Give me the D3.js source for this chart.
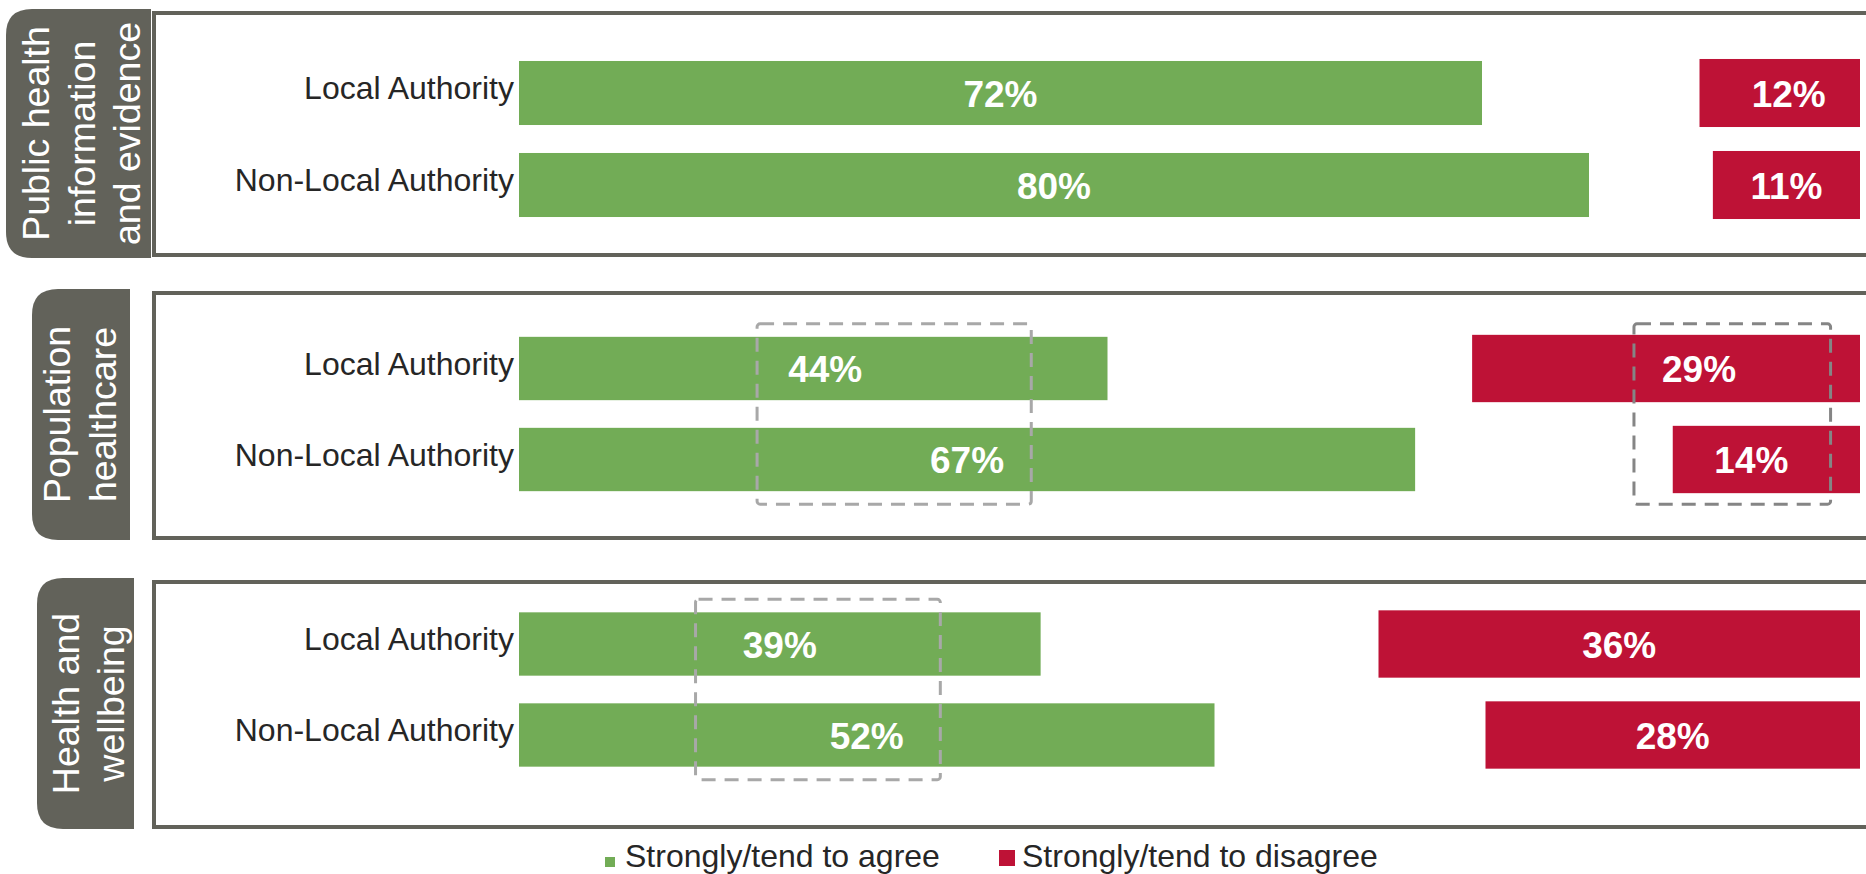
<!DOCTYPE html>
<html>
<head>
<meta charset="utf-8">
<script src="https://cdn.jsdelivr.net/npm/d3@7"></script>
<style>
  html, body { margin: 0; padding: 0; background: #fff; }
  svg { display: block; font-family: "Liberation Sans", Arial, sans-serif; }
</style>
</head>
<body>
<svg id="chart" width="1866" height="874"></svg>
<script>
// ---- data ----
const themes = ["Public health information and evidence", "Population healthcare", "Health and wellbeing"];
const themeLines = [["Public health", "information", "and evidence"], ["Population", "healthcare"], ["Health and", "wellbeing"]];
const groups = ["Local Authority", "Non-Local Authority"];
const agree = [[72, 80], [44, 67], [39, 52]];
const disagree = [[12, 11], [29, 14], [36, 28]];
const seriesNames = ["Strongly/tend to agree", "Strongly/tend to disagree"];

// ---- layout ----
const W = 1866, H = 874;
const GREEN = "#72ac56", RED = "#be1236", DARK = "#62625a";

const panels = [
  { frame: [11, 257], tab: { x0: 6, x1: 151, y0: 9, y1: 258 }, band: [47, 231], textShift: 3 },
  { frame: [291, 540], tab: { x0: 32, x1: 130, y0: 289, y1: 540 }, band: [323, 505], textShift: -1 },
  { frame: [580, 829], tab: { x0: 37, x1: 134, y0: 578, y1: 829 }, band: [598.5, 780.5], textShift: 3 }
];

// dashed highlight boxes, x given in percentage units of the agree / disagree scales
const highlights = [
  { panel: 1, side: "agree", from: 17.8, to: 38.3 },
  { panel: 1, side: "disagree", from: 16.9, to: 2.2 },
  { panel: 2, side: "agree", from: 13.2, to: 31.5 }
];

// small horizontal nudges for a few value labels
const labelNudge = { "1-0-agree": 12, "1-0-disagree": 33, "1-1-disagree": -15, "0-0-disagree": 9 };

const svg = d3.select("#chart");

// agree bars grow rightwards from the label column, disagree bars grow leftwards from the right edge
const xAgree = d3.scaleLinear().domain([0, 100]).range([519, 519 + 1337.5]);
const xDis = d3.scaleLinear().domain([0, 100]).range([1860, 1860 - 1337.5]);

panels.forEach((p, pi) => {
  const g = svg.append("g").attr("class", "panel");

  // outlined frame, open past the right edge
  g.append("rect")
    .attr("x", 154).attr("y", p.frame[0] + 2)
    .attr("width", 1900).attr("height", p.frame[1] - p.frame[0] - 4)
    .attr("fill", "#fff").attr("stroke", DARK).attr("stroke-width", 4);

  // theme tab with rounded left corners
  const t = p.tab, r = 26;
  g.append("path")
    .attr("d", `M${t.x1},${t.y0} L${t.x0 + r},${t.y0} Q${t.x0},${t.y0} ${t.x0},${t.y0 + r} L${t.x0},${t.y1 - r} Q${t.x0},${t.y1} ${t.x0 + r},${t.y1} L${t.x1},${t.y1} Z`)
    .attr("fill", DARK);

  const cx = (t.x0 + t.x1) / 2 + p.textShift, cy = (t.y0 + t.y1) / 2;
  const lines = themeLines[pi];
  const lh = 45.5;
  const tt = g.append("text")
    .attr("transform", `translate(${cx},${cy}) rotate(-90)`)
    .attr("text-anchor", "middle")
    .attr("fill", "#fff")
    .attr("font-size", 37.5);
  lines.forEach((ln, i) => {
    tt.append("tspan")
      .attr("x", 0)
      .attr("y", (i - (lines.length - 1) / 2) * lh + 13)
      .text(ln);
  });
  tt.append("title").text(themes[pi]);

  const y = d3.scaleBand().domain(groups).range(p.band).paddingInner(0.304).paddingOuter(0.152);

  // category labels
  g.selectAll("text.cat").data(groups).join("text")
    .attr("class", "cat")
    .attr("x", 514)
    .attr("y", d => y(d) + y.bandwidth() / 2 + 6)
    .attr("text-anchor", "end")
    .attr("font-size", 32)
    .attr("fill", "#262626")
    .text(d => d);

  const rows = groups.map((gname, gi) => ({ gname, gi, a: agree[pi][gi], d: disagree[pi][gi] }));

  // agree bars
  g.selectAll("rect.agree").data(rows).join("rect")
    .attr("class", "agree")
    .attr("x", xAgree(0))
    .attr("y", d => y(d.gname))
    .attr("width", d => xAgree(d.a) - xAgree(0))
    .attr("height", y.bandwidth())
    .attr("fill", GREEN);

  // disagree bars
  g.selectAll("rect.dis").data(rows).join("rect")
    .attr("class", "dis")
    .attr("x", d => xDis(d.d))
    .attr("y", d => y(d.gname) - 2)
    .attr("width", d => xDis(0) - xDis(d.d))
    .attr("height", y.bandwidth() + 4)
    .attr("fill", RED);

  // value labels
  g.selectAll("text.va").data(rows).join("text")
    .attr("class", "va")
    .attr("x", d => (xAgree(0) + xAgree(d.a)) / 2 + (labelNudge[`${pi}-${d.gi}-agree`] || 0))
    .attr("y", d => y(d.gname) + y.bandwidth() / 2 + 13.5)
    .attr("text-anchor", "middle")
    .attr("font-size", 37).attr("font-weight", "bold").attr("fill", "#fff")
    .text(d => d.a + "%");

  g.selectAll("text.vd").data(rows).join("text")
    .attr("class", "vd")
    .attr("x", d => (xDis(0) + xDis(d.d)) / 2 + (labelNudge[`${pi}-${d.gi}-disagree`] || 0))
    .attr("y", d => y(d.gname) + y.bandwidth() / 2 + 13.5)
    .attr("text-anchor", "middle")
    .attr("font-size", 37).attr("font-weight", "bold").attr("fill", "#fff")
    .text(d => d.d + "%");

  // dashed highlight boxes
  highlights.filter(h => h.panel === pi).forEach(h => {
    const sc = h.side === "agree" ? xAgree : xDis;
    const x0 = Math.min(sc(h.from), sc(h.to)), x1 = Math.max(sc(h.from), sc(h.to));
    const y0 = y(groups[0]) - 13, y1 = y(groups[1]) + y.bandwidth() + 13;
    g.append("rect")
      .attr("x", x0).attr("y", y0)
      .attr("width", x1 - x0).attr("height", y1 - y0)
      .attr("rx", 3)
      .attr("fill", "none")
      .attr("stroke", h.side === "agree" ? "#a8a8a8" : "#858585")
      .attr("stroke-width", 3)
      .attr("stroke-dasharray", "14 9");
  });
});

// legend
const legend = svg.append("g").attr("class", "legend");
const legendItems = [
  { name: seriesNames[0], color: GREEN, sx: 605, sy: 857, s: 10, tx: 625 },
  { name: seriesNames[1], color: RED, sx: 999, sy: 850, s: 16, tx: 1022 }
];
legendItems.forEach(it => {
  legend.append("rect").attr("x", it.sx).attr("y", it.sy).attr("width", it.s).attr("height", it.s).attr("fill", it.color);
  legend.append("text").attr("x", it.tx).attr("y", 867).attr("font-size", 32).attr("fill", "#262626").text(it.name);
});
</script>
</body>
</html>
